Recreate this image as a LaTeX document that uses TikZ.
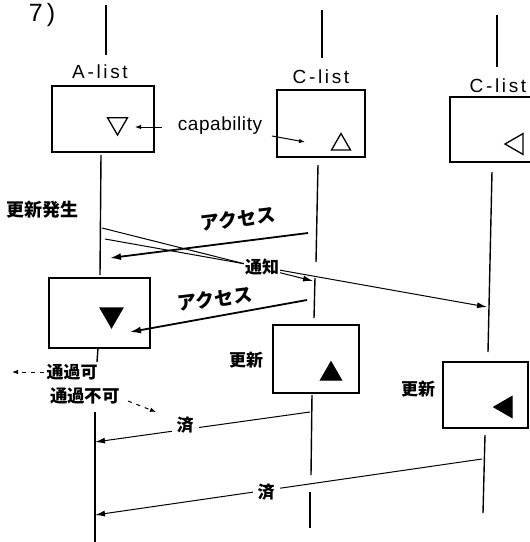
\documentclass[tikz,border=0pt]{standalone}
\usepackage{fontspec}
\setsansfont{Liberation Sans}
\newfontfamily\jp{Noto Sans CJK JP}
\newfontfamily\lspfont{Liberation Sans}[LetterSpace=14]
\newfontfamily\cspfont{Liberation Sans}[LetterSpace=3]
\usetikzlibrary{arrows.meta,shapes.geometric}
\begin{document}
\begin{tikzpicture}[x=1pt,y=-1pt,
  life/.style={line width=1.4pt},
  box/.style={draw,line width=1.3pt,inner sep=0pt},
  msg/.style={line width=1pt,-{Latex[length=10pt,width=6pt]}},
  acc/.style={line width=1.8pt,-{Latex[length=11pt,width=7pt]}},
  capar/.style={line width=1pt,-{Latex[length=6pt,width=4.5pt]}},
  dsh/.style={line width=1pt,dash pattern=on 4pt off 5pt,-{Latex[length=6pt,width=4.5pt]}},
  lab/.style={font=\lspfont\fontsize{19}{19}\selectfont,inner sep=0pt},
  jlab/.style={font=\jp\bfseries\fontsize{17}{17}\selectfont,inner sep=1pt},
  wlab/.style={jlab,fill=white,inner sep=2pt},
  tri/.style={regular polygon,regular polygon sides=3,inner sep=0pt,draw,line width=1.3pt},
  ftri/.style={tri,fill=black},
]
\clip (0,0) rectangle (530,542);
\fill[white] (0,0) rectangle (530,542);

% title
\node[font=\sffamily\fontsize{25}{25}\selectfont,inner sep=0pt] (title) at (42,15) {7\,)};

% boxes
\node[box,minimum width=102pt,minimum height=66pt] (A1) at (103,119) {};
\node[box,minimum width=88pt,minimum height=67pt] (C1a) at (321,123.5) {};
\node[box,minimum width=86pt,minimum height=65pt] (C2a) at (493,129.5) {};
\node[box,minimum width=101pt,minimum height=70pt] (A2) at (99.5,313) {};
\node[box,minimum width=86pt,minimum height=68pt] (C1b) at (316,359) {};
\node[box,minimum width=85pt,minimum height=66pt] (C2b) at (485.5,395) {};

% list labels
\node[lab] (Alab) at (100,72) {A-list};
\node[lab] (C1lab) at (321,77) {C-list};
\node[lab] (C2lab) at (498,86) {C-list};

% triangles
\node[tri,minimum size=23pt,shape border rotate=180] (t1) at (117.5,123.5) {};
\node[tri,minimum size=22pt] (t2) at (341,144.5) {};
\node[tri,minimum size=24pt,shape border rotate=90] (t3) at (517,144) {};
\node[ftri,minimum size=26pt,shape border rotate=180] (t4) at (111.5,314.5) {};
\node[ftri,minimum size=24pt] (t5) at (331,374) {};
\node[ftri,minimum size=24pt,shape border rotate=90] (t6) at (506,407) {};

% lifelines A
\coordinate (a0) at (106,5);   \coordinate (a1) at (106,55);
\coordinate (a2) at (101,155); \coordinate (a3) at (100,275);
\coordinate (a4) at (98,348);  \coordinate (a5) at (97,362);
\coordinate (a6) at (95,412);  \coordinate (a7) at (95,542);
\draw[life] (a0) -- (a1); \draw[life] (a2) -- (a3);
\draw[life] (a4) -- (a5); \draw[life] (a6) -- (a7);
% lifelines C1
\coordinate (b0) at (322,10);  \coordinate (b1) at (322,58);
\coordinate (b2) at (318,165); \coordinate (b3) at (316,262);
\coordinate (b4) at (315,278); \coordinate (b5) at (314,318);
\coordinate (b6) at (312,395); \coordinate (b7) at (311,475);
\coordinate (b8) at (310,492); \coordinate (b9) at (310,528);
\draw[life] (b0) -- (b1); \draw[life] (b2) -- (b3);
\draw[life] (b4) -- (b5); \draw[life] (b6) -- (b7);
\draw[life] (b8) -- (b9);
% lifelines C2
\coordinate (c0) at (497,15);  \coordinate (c1) at (497,67);
\coordinate (c2) at (492,172); \coordinate (c3) at (488,352);
\coordinate (c4) at (485,435); \coordinate (c5) at (483,513);
\draw[life] (c0) -- (c1); \draw[life] (c2) -- (c3);
\draw[life] (c4) -- (c5);

% capability
\node[inner sep=0pt,font=\cspfont\fontsize{19}{19}\selectfont] (capl) at (220,126) {capability};
\coordinate (k1) at (162,127); \coordinate (k2) at (135,127);
\coordinate (k3) at (272,136); \coordinate (k4) at (305,142);
\draw[capar] (k1) -- (k2);
\draw[capar] (k3) -- (k4);

% update occurs
\node[jlab,font=\jp\bfseries\fontsize{18}{18}\selectfont] (upd) at (42,210) {更新発生};

% notification lines
\coordinate (n1s) at (102,228); \coordinate (n1e) at (313,281);
\coordinate (n2s) at (105,239); \coordinate (n2e) at (487,307);
\draw[msg] (n1s) -- (n1e);
\draw[msg] (n2s) -- (n2e);
\node[wlab,inner sep=1pt] (tsuchi) at (262,267) {通知};

% access arrows
\coordinate (x1s) at (308,233); \coordinate (x1e) at (110,258);
\coordinate (x2s) at (307,300); \coordinate (x2e) at (130,332);
\draw[acc] (x1s) -- (x1e);
\draw[acc] (x2s) -- (x2e);
\node[inner sep=1pt,font=\jp\bfseries\fontsize{19}{19}\selectfont,rotate=7] (acc1) at (238,219) {アクセス};
\node[inner sep=1pt,font=\jp\bfseries\fontsize{19}{19}\selectfont,rotate=7] (acc2) at (215,299) {アクセス};

% update labels
\node[jlab] (upd1) at (246,360) {更新};
\node[jlab] (upd2) at (418,389) {更新};

% pass / no pass
\node[jlab] (pass) at (72,372) {通過可};
\coordinate (p1) at (44,372); \coordinate (p2) at (12,372);
\draw[dsh] (p1) -- (p2);
\node[jlab,font=\jp\bfseries\fontsize{17.5}{17.5}\selectfont] (nopass) at (85,396) {通過不可};
\coordinate (q1) at (128,401); \coordinate (q2) at (156,412);
\draw[dsh] (q1) -- (q2);

% done arrows
\coordinate (d1s) at (310,412); \coordinate (d1e) at (95,442);
\coordinate (d2s) at (482,459); \coordinate (d2e) at (95,515);
\draw[msg] (d1s) -- (d1e);
\draw[msg] (d2s) -- (d2e);
\node[wlab,inner sep=5pt] (done1) at (185,425) {済};
\node[wlab,inner sep=5pt] (done2) at (266,492) {済};
\end{tikzpicture}
\end{document}
